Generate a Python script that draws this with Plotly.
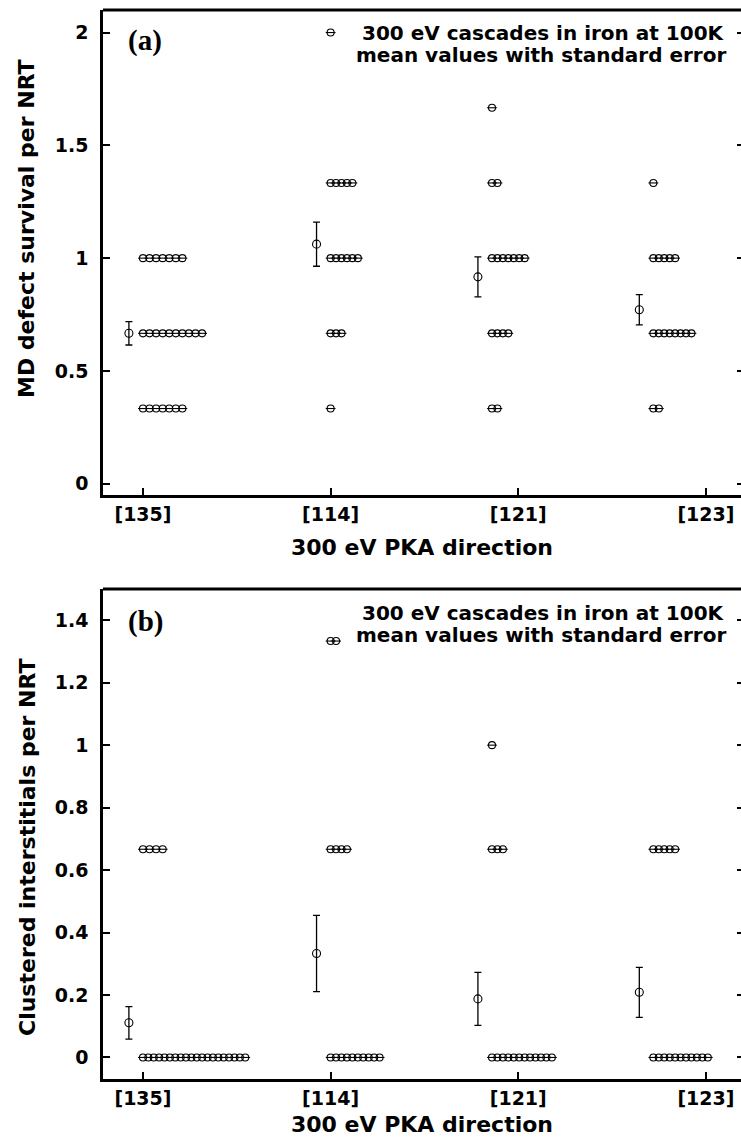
import plotly.graph_objects as go

# ---------------- data ----------------
directions = ["[135]", "[114]", "[121]", "[123]"]

# individual cascades: (value per NRT, number of cascades)
survival_rows = {
    "[135]": [(1.0, 7), (2 / 3, 10), (1 / 3, 7)],
    "[114]": [(2.0, 1), (4 / 3, 5), (1.0, 6), (2 / 3, 3), (1 / 3, 1)],
    "[121]": [(5 / 3, 1), (4 / 3, 2), (1.0, 7), (2 / 3, 4), (1 / 3, 2)],
    "[123]": [(4 / 3, 1), (1.0, 5), (2 / 3, 8), (1 / 3, 2)],
}
cluster_rows = {
    "[135]": [(2 / 3, 4), (0.0, 20)],
    "[114]": [(4 / 3, 2), (2 / 3, 4), (0.0, 10)],
    "[121]": [(1.0, 1), (2 / 3, 3), (0.0, 12)],
    "[123]": [(2 / 3, 5), (0.0, 11)],
}

# mean values and standard errors
survival_mean = [0.667, 1.062, 0.917, 0.771]
survival_se = [0.052, 0.098, 0.089, 0.067]
cluster_mean = [0.111, 0.333, 0.1875, 0.2086]
cluster_se = [0.052, 0.122, 0.085, 0.080]

tick_vals_x = [1, 2, 3, 4]
top_yticks = [0, 0.5, 1, 1.5, 2]
top_yticktext = ["0", "0.5", "1", "1.5", "2"]
bot_yticks = [0, 0.2, 0.4, 0.6, 0.8, 1.0, 1.2, 1.4]
bot_yticktext = ["0", "0.2", "0.4", "0.6", "0.8", "1", "1.2", "1.4"]

legend_line1 = "300 eV cascades in iron at 100K"
legend_line2 = "mean values with standard error"
xtitle = "300 eV PKA direction"

# ---------------- layout helpers ----------------
dir_pos = [1.0, 2.0, 2.86, 3.72]      # where each direction's points start
dir_step = [0.035, 0.029, 0.029, 0.029]
max_span = 0.545
mean_shift = -0.075

SANS = "DejaVu Sans"


def row_points(rows):
    xs, ys = [], []
    for i, d in enumerate(directions):
        for val, n in rows[d]:
            step = dir_step[i]
            if n > 1:
                step = min(step, max_span / (n - 1))
            for k in range(n):
                xs.append(dir_pos[i] + k * step)
                ys.append(val)
    return xs, ys


fig = go.Figure()


def add_panel(rows, means, ses, xa, ya):
    xs, ys = row_points(rows)
    fig.add_trace(go.Scatter(
        x=xs, y=ys, mode="markers", xaxis=xa, yaxis=ya, showlegend=False,
        marker=dict(symbol="circle-open", size=7, color="black",
                    line=dict(width=1.1, color="black")),
        hoverinfo="skip"))
    fig.add_trace(go.Scatter(
        x=xs, y=ys, mode="markers", xaxis=xa, yaxis=ya, showlegend=False,
        marker=dict(symbol="line-ew-open", size=7, color="black",
                    line=dict(width=1.1, color="black")),
        hoverinfo="skip"))
    fig.add_trace(go.Scatter(
        x=[p + mean_shift for p in dir_pos], y=means, mode="markers",
        xaxis=xa, yaxis=ya, showlegend=False,
        marker=dict(symbol="circle-open", size=8, color="black",
                    line=dict(width=1.1, color="black")),
        error_y=dict(type="data", array=ses, color="black",
                     thickness=1.3, width=3.5)))


add_panel(survival_rows, survival_mean, survival_se, "x", "y")
add_panel(cluster_rows, cluster_mean, cluster_se, "x2", "y2")
# dummy traces for right-hand tick axes
fig.add_trace(go.Scatter(x=[None], y=[None], xaxis="x", yaxis="y3", showlegend=False))
fig.add_trace(go.Scatter(x=[None], y=[None], xaxis="x2", yaxis="y4", showlegend=False))

H, W = 1137, 741
ml, mr, mt, mb = 103, 0, 10, 58
ph = H - mt - mb


def yfrac(px):
    return (H - mb - px) / ph


top_dom = [yfrac(495), 1.0]
bot_dom = [0.0, yfrac(589)]

xrange_ = [0.787, 4.187]
tickfont = dict(family=SANS, size=19, color="black", weight="bold")

xcommon = dict(range=xrange_, tickvals=tick_vals_x, ticktext=directions,
               ticks="inside", ticklen=7, tickwidth=2, tickcolor="black",
               showline=True, linewidth=2.5, linecolor="black",
               showgrid=False, zeroline=False, tickfont=tickfont,
               ticklabelstandoff=0)
ycommon = dict(ticks="inside", ticklen=7, tickwidth=2, tickcolor="black",
               showline=True, linewidth=2.5, linecolor="black",
               showgrid=False, zeroline=False, tickfont=tickfont,
               ticklabelstandoff=8)
yright = dict(ticks="inside", ticklen=4, tickwidth=2, tickcolor="black",
              showline=False, showgrid=False, zeroline=False,
              showticklabels=False, side="right")

fig.update_layout(
    width=W, height=H,
    margin=dict(l=ml, r=mr, t=mt, b=mb),
    paper_bgcolor="white", plot_bgcolor="white",
    xaxis=dict(domain=[0, 1], anchor="y", **xcommon),
    yaxis=dict(domain=top_dom, anchor="x", range=[-0.05, 2.1],
               tickvals=top_yticks, ticktext=top_yticktext, **ycommon),
    xaxis2=dict(domain=[0, 1], anchor="y2", **xcommon),
    yaxis2=dict(domain=bot_dom, anchor="x2", range=[-0.069, 1.5],
                tickvals=bot_yticks, ticktext=bot_yticktext, **ycommon),
    yaxis3=dict(overlaying="y", anchor="x", range=[-0.05, 2.1],
                tickvals=top_yticks, **yright),
    yaxis4=dict(overlaying="y2", anchor="x2", range=[-0.069, 1.5],
                tickvals=bot_yticks, **yright),
)

# top borders
for xr, yr in (("x domain", "y domain"), ("x2 domain", "y2 domain")):
    fig.add_shape(type="line", xref=xr, yref=yr, x0=0, x1=1, y0=1, y1=1,
                  line=dict(color="black", width=3))

labfont = dict(family=SANS, size=20, color="black", weight="bold")
titlefont = dict(family=SANS, size=22, color="black", weight="bold")
panel_font = dict(family="Liberation Serif", size=29, color="black", weight="bold")


def px_x(px):
    return (px - ml) / (W - ml - mr)


def add_texts(xr, yr, top_px, bot_px, tag, tag_y, l1_y, l2_y):
    hgt = bot_px - top_px

    def dy(px):
        return (bot_px - px) / hgt

    fig.add_annotation(xref=xr, yref=yr, x=px_x(145), y=dy(tag_y), text=tag,
                       showarrow=False, xanchor="center", yanchor="middle",
                       font=panel_font)
    fig.add_annotation(xref=xr, yref=yr, x=px_x(727), y=dy(l1_y), text=legend_line1,
                       showarrow=False, xanchor="right", yanchor="middle",
                       font=labfont)
    fig.add_annotation(xref=xr, yref=yr, x=px_x(728), y=dy(l2_y), text=legend_line2,
                       showarrow=False, xanchor="right", yanchor="middle",
                       font=labfont)


add_texts("x domain", "y domain", 10, 495, "(a)", 41, 33, 55)
add_texts("x2 domain", "y2 domain", 589, H - mb, "(b)", 621, 613, 635)

# axis titles
fig.add_annotation(xref="paper", yref="paper", x=px_x(422), y=yfrac(547),
                   text=xtitle, showarrow=False, xanchor="center",
                   yanchor="middle", font=titlefont)
fig.add_annotation(xref="paper", yref="paper", x=px_x(422), y=yfrac(1124),
                   text=xtitle, showarrow=False, xanchor="center",
                   yanchor="middle", font=titlefont)
fig.add_annotation(xref="paper", yref="paper", x=px_x(27), y=yfrac(229),
                   text="MD defect survival per NRT", textangle=-90,
                   showarrow=False, xanchor="center", yanchor="middle",
                   font=titlefont)
fig.add_annotation(xref="paper", yref="paper", x=px_x(27), y=yfrac(848),
                   text="Clustered interstitials per NRT", textangle=-90,
                   showarrow=False, xanchor="center", yanchor="middle",
                   font=titlefont)

fig.write_html(
    "out.html",
    config={"displayModeBar": False},
    post_script="document.body.style.margin='0';document.body.style.overflow='hidden';",
)
